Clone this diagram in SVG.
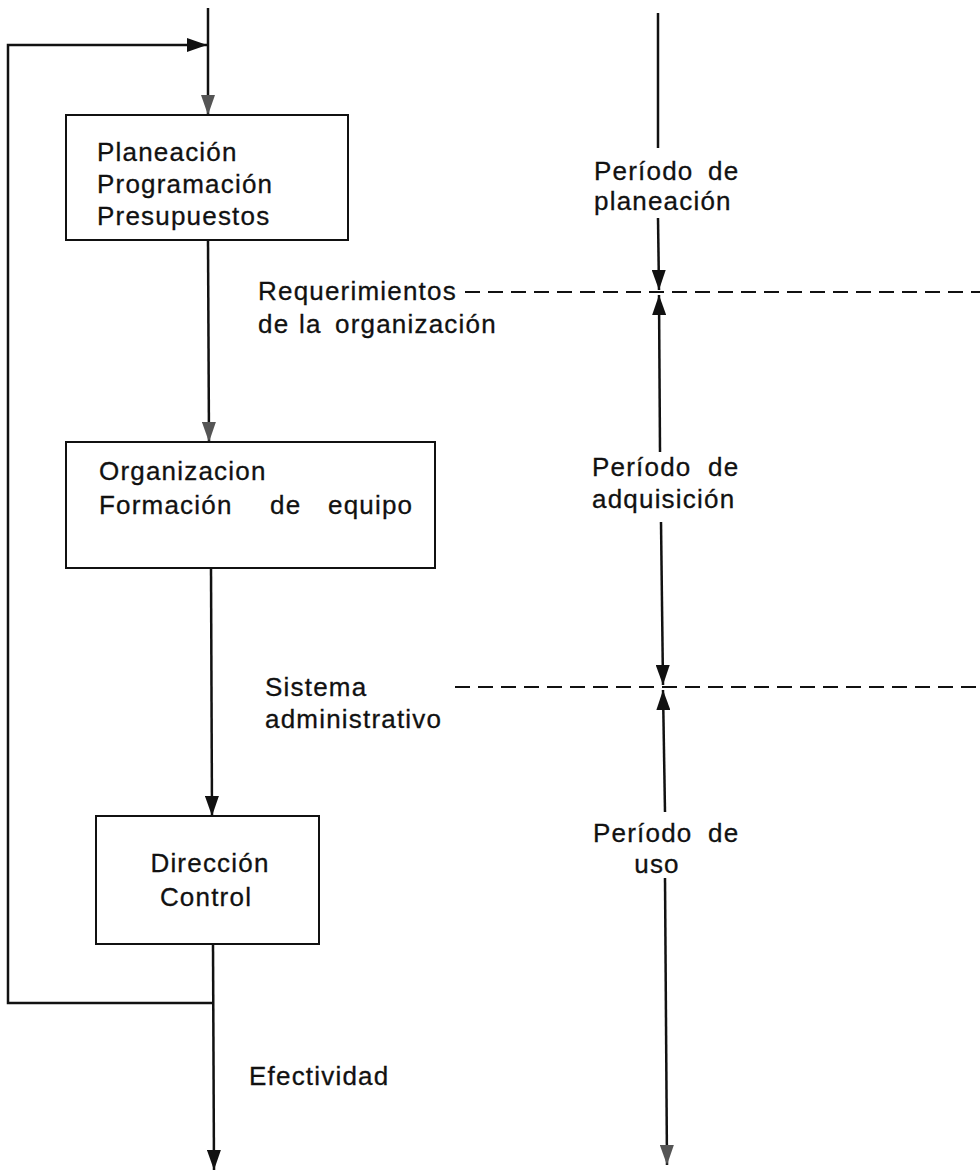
<svg xmlns="http://www.w3.org/2000/svg" width="980" height="1176" viewBox="0 0 980 1176">
<style>
.bg{fill:#ffffff}
.box{fill:none;stroke:#111;stroke-width:2}
.ln{fill:none;stroke:#111;stroke-width:2.5}
.dash{fill:none;stroke:#111;stroke-width:2;stroke-dasharray:15 8}
.t{font-family:"Liberation Sans",Arial,sans-serif;font-size:26px;letter-spacing:1.2px;fill:#111;stroke:#111;stroke-width:0.3}
</style>
<defs>
<marker id="ah" viewBox="0 0 20 14" refX="20" refY="7" markerWidth="20" markerHeight="14" orient="auto" markerUnits="userSpaceOnUse">
<path d="M0,0 L20,7 L0,14 z" fill="#111"/>
</marker>
<marker id="ahf" viewBox="0 0 20 14" refX="20" refY="7" markerWidth="20" markerHeight="14" orient="auto" markerUnits="userSpaceOnUse">
<path d="M0,0 L20,7 L0,14 z" fill="#555"/>
</marker>
</defs>
<rect class="bg" x="0" y="0" width="980" height="1176"/>

<g id="connectors">
<line class="ln" x1="208" y1="8" x2="208" y2="115" marker-end="url(#ahf)"/>
<polyline class="ln" points="213,1003 8,1003 8,45 207,45" marker-end="url(#ah)"/>
<line class="ln" x1="208" y1="240" x2="209" y2="442" marker-end="url(#ahf)"/>
<line class="ln" x1="211" y1="568" x2="212" y2="816" marker-end="url(#ah)"/>
<line class="ln" x1="213" y1="944" x2="214" y2="1170" marker-end="url(#ah)"/>
<line class="dash" x1="465" y1="292" x2="980" y2="292"/>
<line class="dash" x1="455" y1="687" x2="980" y2="687"/>
<line class="ln" x1="658" y1="13" x2="658" y2="148"/>
<line class="ln" x1="658" y1="218" x2="659" y2="290" marker-end="url(#ah)"/>
<line class="ln" x1="660" y1="452" x2="659" y2="295" marker-end="url(#ah)"/>
<line class="ln" x1="661" y1="522" x2="663" y2="685" marker-end="url(#ah)"/>
<line class="ln" x1="665" y1="812" x2="663" y2="690" marker-end="url(#ah)"/>
<line class="ln" x1="665" y1="878" x2="667" y2="1165" marker-end="url(#ahf)"/>
</g>

<g id="node-planeacion">
<rect class="box" x="66" y="115" width="282" height="125"/>
<text class="t" x="97" y="161">Planeación</text>
<text class="t" x="97" y="193">Programación</text>
<text class="t" x="97" y="225">Presupuestos</text>
</g>

<g id="node-organizacion">
<rect class="box" x="66" y="442" width="369" height="126"/>
<text class="t" x="99" y="480">Organizacion</text>
<text class="t" y="514"><tspan x="99">Formación</tspan><tspan x="270">de</tspan><tspan x="328">equipo</tspan></text>
</g>

<g id="node-direccion">
<rect class="box" x="96" y="816" width="223" height="128"/>
<text class="t" x="210" y="872" text-anchor="middle">Dirección</text>
<text class="t" x="206" y="906" text-anchor="middle">Control</text>
</g>

<g id="label-requerimientos">
<text class="t" x="258" y="300">Requerimientos</text>
<text class="t" y="333"><tspan x="258">de</tspan><tspan x="299">la</tspan><tspan x="335">organización</tspan></text>
</g>

<g id="label-sistema">
<text class="t" x="265" y="696">Sistema</text>
<text class="t" x="265" y="728">administrativo</text>
</g>

<g id="label-efectividad">
<text class="t" x="249" y="1085">Efectividad</text>
</g>

<g id="label-planeacion-period">
<text class="t" y="180"><tspan x="594">Período</tspan><tspan x="708">de</tspan></text>
<text class="t" x="594" y="210">planeación</text>
</g>

<g id="label-adquisicion-period">
<text class="t" y="476"><tspan x="592">Período</tspan><tspan x="708">de</tspan></text>
<text class="t" x="592" y="508">adquisición</text>
</g>

<g id="label-uso-period">
<text class="t" y="842"><tspan x="593">Período</tspan><tspan x="708">de</tspan></text>
<text class="t" x="657" y="873" text-anchor="middle">uso</text>
</g>
</svg>
